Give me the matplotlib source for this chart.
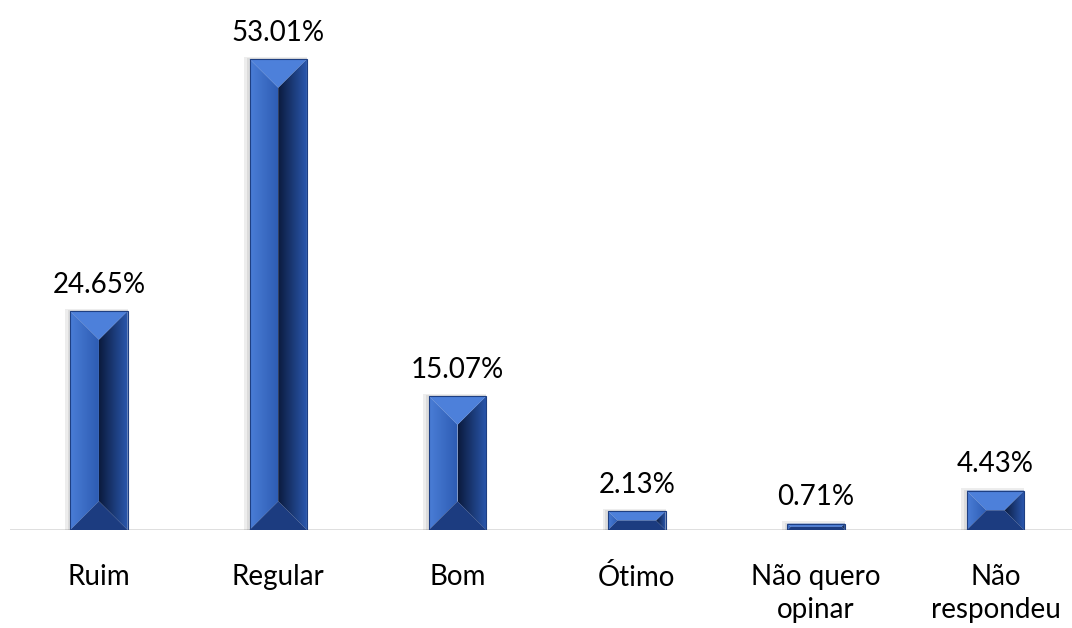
import numpy as np
import matplotlib.pyplot as plt
from matplotlib.patches import Polygon
from matplotlib.colors import LinearSegmentedColormap

# Dados do gráfico
categorias = ['Ruim', 'Regular', 'Bom', 'Ótimo', 'Não quero\nopinar', 'Não\nrespondeu']
percentuais = [24.65, 53.01, 15.07, 2.13, 0.71, 4.43]
rotulos = ['24.65%', '53.01%', '15.07%', '2.13%', '0.71%', '4.43%']

plt.rcParams['font.family'] = ['Lato', 'DejaVu Sans']

fig = plt.figure(figsize=(10.72, 6.28), dpi=100)
ax = fig.add_axes([10 / 1072, 98 / 628, 1 - 10 / 1072, 490 / 628])
ax.set_xlim(-0.496, 5.427)
ax.set_ylim(0, 55.15)
ax.axis('off')

# linha do eixo
ax.axhline(0, color='#d9d9d9', lw=1.2, zorder=1)

largura = 0.32
fig.canvas.draw()
px_x = ax.transData.transform((1, 0))[0] - ax.transData.transform((0, 0))[0]
px_y = ax.transData.transform((0, 1))[1] - ax.transData.transform((0, 0))[1]

cmap_esq = LinearSegmentedColormap.from_list('esq', ['#4a7dd6', '#2d5cb3'])
cmap_dir = LinearSegmentedColormap.from_list('dir', ['#0b1b3e', '#2a57ad'])


def face_gradiente(pts, cmap, x0, x1, y0, y1):
    poly = Polygon(pts, closed=True, facecolor='none', edgecolor='none')
    ax.add_patch(poly)
    grad = np.linspace(0, 1, 64).reshape(1, -1)
    im = ax.imshow(grad, cmap=cmap, extent=(x0, x1, y0, y1), aspect='auto',
                   interpolation='bilinear', zorder=3)
    im.set_clip_path(poly)


for i, (v, rot, cat) in enumerate(zip(percentuais, rotulos, categorias)):
    x0 = i - largura / 2
    x1 = i + largura / 2
    w_px = largura * px_x
    h_px = v * px_y
    d = min(w_px / 2, h_px / 2)
    dx = d / px_x
    dy = d / px_y

    # sombra
    ax.add_patch(plt.Rectangle((x0 - 0.03, 0), largura + 0.03, v + 0.25,
                               facecolor='#000000', alpha=0.07, lw=0, zorder=2))
    ax.add_patch(plt.Rectangle((x0 - 0.015, 0), largura + 0.015, v + 0.12,
                               facecolor='#000000', alpha=0.07, lw=0, zorder=2))

    # faces laterais
    esq = [(x0, 0), (x0 + dx, dy), (x0 + dx, v - dy), (x0, v)]
    face_gradiente(esq, cmap_esq, x0, x0 + dx, 0, v)
    dir_ = [(x1, 0), (x1 - dx, dy), (x1 - dx, v - dy), (x1, v)]
    face_gradiente(dir_, cmap_dir, x1 - dx, x1, 0, v)
    if x1 - dx > x0 + dx:
        ax.add_patch(Polygon([(x0 + dx, dy), (x1 - dx, dy), (x1 - dx, v - dy), (x0 + dx, v - dy)],
                             facecolor='#1f4590', lw=0, zorder=3))

    # topo e base
    ax.add_patch(Polygon([(x0, v), (x1, v), (x1 - dx, v - dy), (x0 + dx, v - dy)],
                         facecolor='#4d80da', edgecolor='none', zorder=4))
    ax.add_patch(Polygon([(x0, 0), (x1, 0), (x1 - dx, dy), (x0 + dx, dy)],
                         facecolor='#1c3c80', edgecolor='none', zorder=4))
    ax.add_patch(plt.Rectangle((x0, 0), largura, v, facecolor='none',
                               edgecolor='#1e3f82', lw=0.8, zorder=5))

    ax.text(i, v + 1.5, rot, ha='center', va='bottom', fontsize=20, color='#000000')
    ax.text(i, -3.8, cat, ha='center', va='top', fontsize=20, color='#000000',
            linespacing=1.36)

fig.savefig('out.png', dpi=100)
